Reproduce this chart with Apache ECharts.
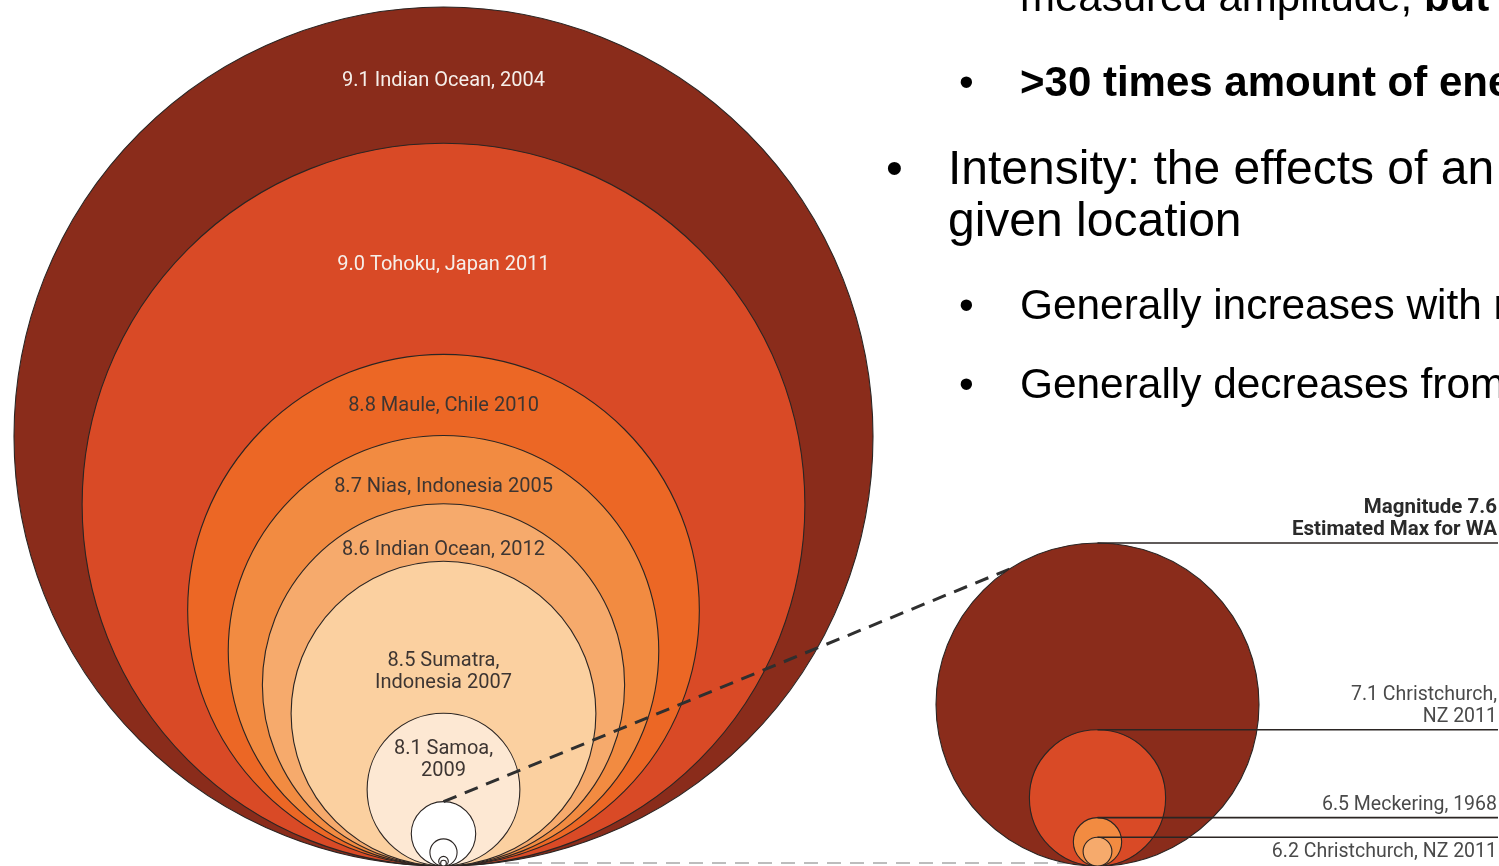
<!DOCTYPE html>
<html>
<head>
<meta charset="utf-8">
<script src="https://cdn.jsdelivr.net/npm/echarts@6/dist/echarts.min.js"></script>
<style>html,body{margin:0;padding:0;background:#fff}#main{width:1499px;height:866px}</style>
</head>
<body>
<div id="main"></div>
<script>
// big quakes, nested circles (area ~ energy released)
const bigNames = ['9.1 Indian Ocean, 2004', '9.0 Tohoku, Japan 2011', '8.8 Maule, Chile 2010', '8.7 Nias, Indonesia 2005',
  '8.6 Indian Ocean, 2012', '8.5 Sumatra,\nIndonesia 2007', '8.1 Samoa,\n2009', '', '', '', ''];
const bigMags = [9.1, 9.0, 8.8, 8.7, 8.6, 8.5, 8.1, 7.6, 7.1, 6.5, 6.2];
// the WA close-up
const waNames = ['Magnitude 7.6\nEstimated Max for WA', '7.1 Christchurch,\nNZ 2011', '6.5 Meckering, 1968', '6.2 Christchurch, NZ 2011'];
const waMags = [7.6, 7.1, 6.5, 6.2];

const bigColors = ['#8a2c1b', '#d94a26', '#ec6725', '#f28b41', '#f6aa6c', '#fbd0a0', '#fde8d3', '#ffffff', '#ffffff', '#ffffff', '#ffffff'];
const waColors = ['#8a2c1b', '#d94a26', '#f28b41', '#f6aa6c'];
const labelNudge = [6, 16, 11, 17, 18, 35, 3];
const LABEL_FONT = 'Roboto, "Noto Sans", sans-serif';

// radius relative to the biggest circle, so that area scales with energy (10^1.5M)
function rel(m, top){ return Math.pow(10, 0.75 * (m - top)); }

function bigItem(params, api){
  const i = params.dataIndex;
  const r = rel(api.value(2), bigMags[0]);
  const c = api.coord([0, r]);
  const rp = api.size([r, r])[0];
  const kids = [{type:'circle', shape:{cx:c[0], cy:c[1], r:rp},
    style:{fill:bigColors[i], stroke:'#2b2523', lineWidth:1.1}}];
  if(bigNames[i]){
    const top = c[1] - rp;
    const nextTop = api.coord([0, 2 * rel(bigMags[i+1], bigMags[0])])[1];
    kids.push({type:'text', x:c[0], y:(top + nextTop)/2 + labelNudge[i],
      style:{text:bigNames[i], fill: i < 2 ? '#f6efea' : '#3d3532', font:'20px ' + LABEL_FONT,
        align:'center', verticalAlign:'middle', lineHeight:22}});
  }
  return {type:'group', children:kids};
}

function waItem(params, api){
  const i = params.dataIndex;
  const r = rel(api.value(2), waMags[0]);
  const c = api.coord([0, r]);
  const rp = api.size([r, r])[0];
  const top = c[1] - rp;
  const right = api.getWidth() - 1;
  const below = i === waNames.length - 1;
  return {type:'group', children:[
    {type:'circle', shape:{cx:c[0], cy:c[1], r:rp}, style:{fill:waColors[i], stroke:'#2b2523', lineWidth:1.1}},
    {type:'line', shape:{x1:c[0], y1:top, x2:right, y2:top}, style:{stroke:'#2b2523', lineWidth:1.6}},
    {type:'text', x:right - 1, y: below ? top + 4 : top - 2,
      style:{text:waNames[i], fill: i === 0 ? '#2a2a2a' : '#4a4a4a',
        font:(i === 0 ? 'bold 20.5px ' : '19.5px ') + LABEL_FONT,
        align:'right', verticalAlign: below ? 'top' : 'bottom', lineHeight:22}}
  ]};
}

const chart = echarts.init(document.getElementById('main'));
chart.setOption({
  animation:false,
  grid:[
    {left:14, top:7, width:859, height:859},
    {left:936, top:543, width:323, height:323}
  ],
  xAxis:[
    {gridIndex:0, type:'value', min:-1, max:1, show:false},
    {gridIndex:1, type:'value', min:-1, max:1, show:false}
  ],
  yAxis:[
    {gridIndex:0, type:'value', min:0, max:2, show:false},
    {gridIndex:1, type:'value', min:0, max:2, show:false}
  ],
  series:[
    {type:'custom', xAxisIndex:0, yAxisIndex:0, z:1, renderItem:bigItem, data:bigMags.map(m => [0, 0, m])},
    {type:'custom', xAxisIndex:1, yAxisIndex:1, z:10, renderItem:waItem, data:waMags.map(m => [0, 0, m])}
  ]
});

// zoom line from the small 7.6 circle to the close-up
const p1 = chart.convertToPixel({gridIndex:0}, [0, 2 * rel(7.6, bigMags[0])]);
const p2 = chart.convertToPixel({gridIndex:1}, [-0.42, 1.89]);
const SLIDE = '"Liberation Sans", Arial, sans-serif';
function txt(x, y, text, size, bold){
  return {type:'text', x:x, y:y, z:20, style:{text:text, fill:'#000', font:(bold ? 'bold ' : '') + size + 'px ' + SLIDE, align:'left', verticalAlign:'middle'}};
}
chart.setOption({
  graphic:{elements:[
    {type:'line', z:5, shape:{x1:p1[0], y1:p1[1], x2:p2[0], y2:p2[1]}, style:{stroke:'#2f2f2f', lineWidth:3, lineDash:[14, 9]}},
    {type:'line', z:5, shape:{x1:505, y1:863, x2:1110, y2:863}, style:{stroke:'#bdbdbd', lineWidth:2, lineDash:[14, 9]}},
    {type:'text', x:1020, y:-1, z:20, style:{text:'{n|measured amplitude, }{b|but}', verticalAlign:'middle',
      rich:{n:{font:'42px ' + SLIDE, fill:'#000'}, b:{font:'bold 42px ' + SLIDE, fill:'#000'}}}},
    txt(959, 84, '\u2022', 42), txt(1020, 84, '>30 times amount of energy released', 42, true),
    txt(886, 171, '\u2022', 48), txt(948, 171, 'Intensity: the effects of an earthquake at a', 48),
    txt(948, 223, 'given location', 48),
    txt(959, 307, '\u2022', 42), txt(1020, 307, 'Generally increases with magnitude', 42.4),
    txt(959, 386, '\u2022', 42), txt(1020, 386, 'Generally decreases from epicentre', 42.4)
  ]}
});
</script>
</body>
</html>
